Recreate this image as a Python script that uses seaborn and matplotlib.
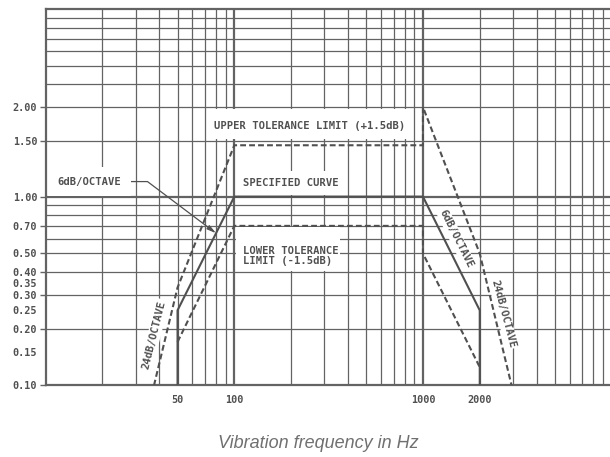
"""
Vibration test spectrum with +/-1.5 dB tolerance band, redrawn from a
scanned spec sheet.  Saves out.png (610x457).
"""
import matplotlib
matplotlib.use("Agg")

import numpy as np
import matplotlib.pyplot as plt
from matplotlib.patches import Rectangle
from matplotlib.ticker import NullLocator
from matplotlib.scale import FuncScale
import seaborn as sns

# ── Data ──────────────────────────────────────────────────────────────────────
SPEC_HZ   = [50, 50, 100, 1000, 2000, 2000]
SPEC_VAL  = [0.10, 0.25, 1.00, 1.00, 0.25, 0.10]

UPPER_HZ  = [37.5, 50, 100, 1000, 1000, 2000, 2950]
UPPER_VAL = [0.10, 0.33, 1.45, 1.45, 2.00, 0.50, 0.10]

LOWER_HZ  = [50, 100, 1000, 1000, 2000]
LOWER_VAL = [0.17, 0.70, 0.70, 0.50, 0.125]

X_TICKS       = [50, 100, 1000, 2000]
X_TICK_LABELS = ["50", "100", "1000", "2000"]
Y_TICKS       = [0.10, 0.15, 0.20, 0.25, 0.30, 0.35, 0.40, 0.50, 0.70, 1.00, 1.50, 2.00]
Y_TICK_LABELS = [f"{v:.2f}" for v in Y_TICKS]
Y_UNMARKED    = [0.15, 0.25, 0.35]          # printed without a tick dash

GRID_X_MAJOR = [100, 1000]
GRID_X_MINOR = [m * d for d in (10, 100, 1000) for m in range(2, 10)]
GRID_Y_MAJOR = [1.0]
GRID_Y_MINOR = [0.2, 0.3, 0.4, 0.5, 0.6, 0.7, 0.8, 0.9, 1.5, 2, 3, 4, 5, 6, 7, 8]

# ── Palette & style ───────────────────────────────────────────────────────────
INK      = "#505050"
GRID     = "#636363"
LABEL    = "#505050"
AXLABEL  = "#707070"
MONO     = "DejaVu Sans Mono"

sns.set_theme(style="white")
plt.rcParams.update({
    "font.family":      "DejaVu Sans",
    "axes.facecolor":   "white",
    "figure.facecolor": "white",
})

# the sheet is log below 1.0 but stretched above it -> piecewise log scale
Y_KNOT_VALUES = [0.01, 0.1, 1.0, 1.5, 2, 3, 4, 5, 6, 7, 8, 9, 90]
Y_KNOT_POS    = [-0.502, 0, 0.502, 0.651, 0.740, 0.801, 0.849, 0.890,
                 0.921, 0.951, 0.976, 1.0, 2.0]
_LOGK = np.log10(Y_KNOT_VALUES)


def y_forward(v):
    v = np.clip(np.asarray(v, dtype=float), 1e-3, None)
    return np.interp(np.log10(v), _LOGK, Y_KNOT_POS)


def y_inverse(p):
    return 10 ** np.interp(np.asarray(p, dtype=float), Y_KNOT_POS, _LOGK)


fig = plt.figure(figsize=(6.1, 4.57), dpi=100)
ax = fig.add_axes([0.0749, 0.1565, 0.9277, 0.8232])
ax.set_xscale("log")
ax.set_yscale(FuncScale(ax.yaxis, (y_forward, y_inverse)))

# ── Grid (drawn by hand: the sheet's lines don't follow the tick set) ─────────
for x in GRID_X_MINOR:
    ax.axvline(x, color=GRID, lw=0.9, zorder=1)
for x in GRID_X_MAJOR:
    ax.axvline(x, color=GRID, lw=1.6, zorder=1)
for y in GRID_Y_MINOR:
    ax.axhline(y, color=GRID, lw=0.9, zorder=1)
for y in GRID_Y_MAJOR:
    ax.axhline(y, color=GRID, lw=1.6, zorder=1)

# white panels that blank the grid behind the captions
for (x0, x1, y0, y1) in [(71.5, 885, 1.52, 1.97),
                         (102, 390, 1.01, 1.20),
                         (102, 365, 0.405, 0.69)]:
    ax.add_patch(Rectangle((x0, y0), x1 - x0, y1 - y0, facecolor="white",
                           edgecolor="none", zorder=1.5))

# ── Curves ────────────────────────────────────────────────────────────────────
dash = (0, (2.8, 1.5))
sns.lineplot(x=SPEC_HZ, y=SPEC_VAL, sort=False, estimator=None, ax=ax,
             color=INK, lw=1.5, zorder=4)
sns.lineplot(x=UPPER_HZ, y=UPPER_VAL, sort=False, estimator=None, ax=ax,
             color=INK, lw=1.5, linestyle=dash, zorder=4)
sns.lineplot(x=LOWER_HZ, y=LOWER_VAL, sort=False, estimator=None, ax=ax,
             color=INK, lw=1.5, linestyle=dash, zorder=4)

# ── Captions ──────────────────────────────────────────────────────────────────
txt = dict(family=MONO, fontsize=7.6, fontweight="bold", color=LABEL, zorder=2)
wbox = dict(boxstyle="square,pad=0.15", facecolor="white", edgecolor="none")

ax.text(252, 1.70, "UPPER TOLERANCE LIMIT (+1.5dB)", ha="center", va="center", **txt)
ax.text(200, 1.10, "SPECIFIED CURVE", ha="center", va="center", **txt)
ax.text(111, 0.485, "LOWER TOLERANCE\nLIMIT (-1.5dB)", ha="left", va="center",
        linespacing=1.1, **txt)

ax.annotate("6dB/OCTAVE", xy=(80, 0.64), xytext=(17.1, 1.115),
            ha="center", va="center",
            bbox=dict(boxstyle="square,pad=0.9", facecolor="white", edgecolor="none"),
            arrowprops=dict(arrowstyle="-|>,head_length=0.7,head_width=0.18",
                            connectionstyle="angle,angleA=0,angleB=-37,rad=0",
                            color=INK, lw=0.9, shrinkA=0, shrinkB=0),
            **txt)

ax.text(1504, 0.597, "6dB/OCTAVE", rotation=-63.5, rotation_mode="anchor",
        ha="center", va="center", bbox=wbox, **txt)
ax.text(2660, 0.241, "24dB/OCTAVE", rotation=-75, rotation_mode="anchor",
        ha="center", va="center", bbox=wbox, **txt)
ax.text(37.6, 0.185, "24dB/OCTAVE", rotation=76, rotation_mode="anchor",
        ha="center", va="center", bbox=wbox, **txt)

# ── Axes ──────────────────────────────────────────────────────────────────────
ax.set_xlim(10, 10000)
ax.set_ylim(0.1, 9)

ax.set_xticks(X_TICKS, labels=X_TICK_LABELS)
ax.xaxis.set_minor_locator(NullLocator())
ax.set_yticks(Y_TICKS, labels=Y_TICK_LABELS)
ax.yaxis.set_minor_locator(NullLocator())
ax.tick_params(axis="x", length=0, pad=7, labelsize=7.3, labelcolor=LABEL)
ax.tick_params(axis="y", length=4.5, width=1, color=GRID, pad=1.5,
               labelsize=7.3, labelcolor=LABEL, left=True)
for lab in ax.get_xticklabels() + ax.get_yticklabels():
    lab.set_family(MONO)
    lab.set_fontweight("bold")
for tick, val in zip(ax.yaxis.get_major_ticks(), Y_TICKS):
    if val in Y_UNMARKED:
        tick.tick1line.set_visible(False)

for side in ("left", "bottom", "top"):
    ax.spines[side].set_color(GRID)
    ax.spines[side].set_linewidth(1.6)
    ax.spines[side].set_zorder(3)
ax.spines["right"].set_visible(False)
ax.set_xlabel("")
ax.set_ylabel("")

fig.text(318 / 610, 1 - 443 / 457, "Vibration frequency in Hz", ha="center",
         va="center", fontsize=13, style="italic", color=AXLABEL,
         family="Liberation Sans")

fig.savefig("out.png", dpi=100)
plt.close(fig)
